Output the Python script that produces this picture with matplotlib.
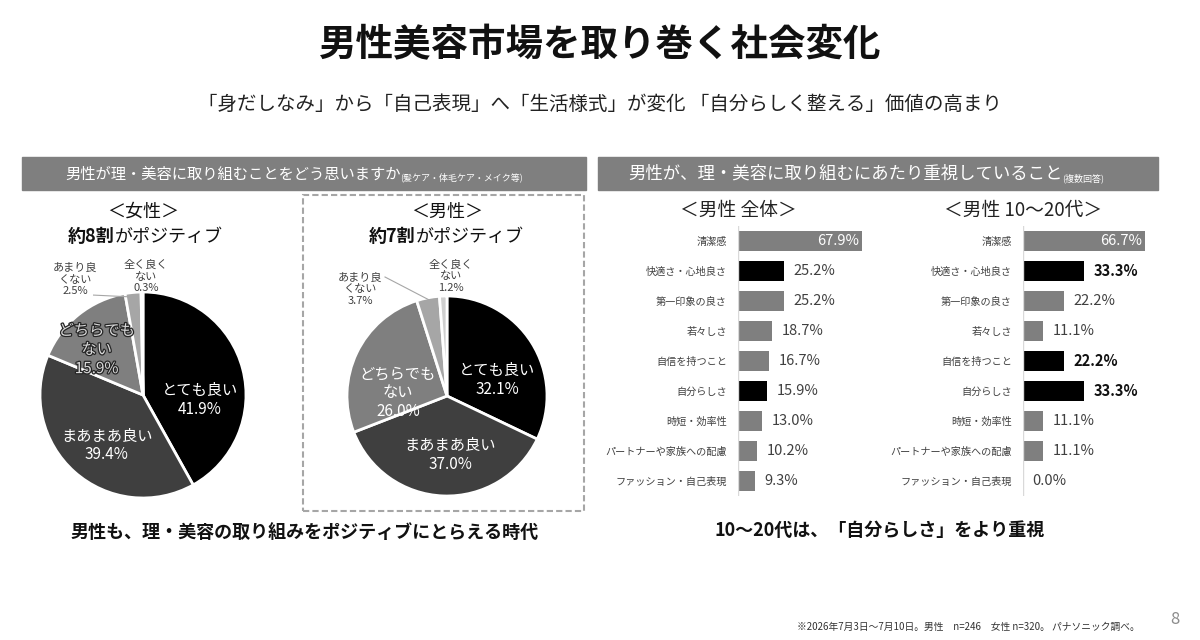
import matplotlib
matplotlib.use('Agg')
import matplotlib.pyplot as plt
from matplotlib.patches import Rectangle
from matplotlib.text import Annotation
import matplotlib.patheffects as pe

plt.rcParams['font.family'] = ['Noto Sans CJK JP', 'DejaVu Sans']

# pie data
pie_labels = ['とても良い', 'まあまあ良い', 'どちらでも\nない', 'あまり良\nくない', '全く良く\nない']
women_share = [41.9, 39.4, 15.9, 2.5, 0.3]
men_share = [32.1, 37.0, 26.0, 3.7, 1.2]
pie_colors = ['#000000', '#3f3f3f', '#7f7f7f', '#a6a6a6', '#cfcfcf']

# bar data
items = ['清潔感', '快適さ・心地良さ', '第一印象の良さ', '若々しさ', '自信を持つこと',
         '自分らしさ', '時短・効率性', 'パートナーや家族への配慮', 'ファッション・自己表現']
men_all = [67.9, 25.2, 25.2, 18.7, 16.7, 15.9, 13.0, 10.2, 9.3]
men_young = [66.7, 33.3, 22.2, 11.1, 22.2, 33.3, 11.1, 11.1, 0.0]
hl_all = ['快適さ・心地良さ', '自分らしさ']
hl_young = ['快適さ・心地良さ', '自信を持つこと', '自分らしさ']

W, H = 1200, 640
fig = plt.figure(figsize=(12, 6.4), dpi=100)
fig.patch.set_facecolor('white')


def fx(x):
    return x / W


def fy(y):
    return 1 - y / H


def tail(prev, s, **kw):
    # text glued to the right end of another text
    a = Annotation(s, xy=(1, 0), xycoords=prev, ha='left', va='bottom', **kw)
    fig.add_artist(a)
    return a


# titles
fig.text(0.5, fy(45), '男性美容市場を取り巻く社会変化', fontsize=27, weight='bold',
         ha='center', va='center', color='#111111')
fig.text(0.5, fy(105), '「身だしなみ」から「自己表現」へ「生活様式」が変化 「自分らしく整える」価値の高まり',
         fontsize=14, ha='center', va='center', color='#222222')

# header bars
for x0, x1 in [(22, 586), (598, 1158)]:
    fig.patches.append(Rectangle((fx(x0), fy(190)), fx(x1 - x0), 33 / H,
                                 transform=fig.transFigure, color='#7f7f7f', zorder=0))
t = fig.text(fx(65), fy(174), '男性が理・美容に取り組むことをどう思いますか', fontsize=11,
             color='white', ha='left', va='center')
tail(t, '(髪ケア・体毛ケア・メイク等)', fontsize=6.5, color='white')
t2 = fig.text(fx(628), fy(174), '男性が、理・美容に取り組むにあたり重視していること', fontsize=12.5,
              color='white', ha='left', va='center')
tail(t2, '(複数回答)', fontsize=6.5, color='white')

# dashed box around men's pie
fig.patches.append(Rectangle((fx(303), fy(511)), fx(584 - 303), (511 - 195) / H,
                             transform=fig.transFigure, fill=False, edgecolor='#a6a6a6',
                             lw=1.5, ls=(0, (3, 1.5)), zorder=0))


def pie_block(cx, cy, r, shares, head, bold_part, rest_part, x_start, inner_pos, outer_pos,
              leader, outline):
    fig.text(fx(cx), fy(212), head, fontsize=13, ha='center', va='center', color='#111111')
    b = fig.text(fx(x_start), fy(236), bold_part, fontsize=13, weight='bold', ha='left',
                 va='center', color='#111111')
    tail(b, rest_part, fontsize=13, color='#111111')

    ax = fig.add_axes([fx(cx - r), fy(cy + r), 2 * r / W, 2 * r / H])
    ax.pie(shares, colors=pie_colors, startangle=90, counterclock=False, radius=1,
           wedgeprops=dict(edgecolor='white', linewidth=2))
    ax.set_aspect('auto')
    ax.set_xlim(-1, 1)
    ax.set_ylim(-1, 1)
    ax.axis('off')
    for i in range(3):
        px, py = inner_pos[i]
        txt = ax.text(px, py, f'{pie_labels[i]}\n{shares[i]:.1f}%', fontsize=11,
                      color='white', ha='center', va='center', linespacing=1.15)
        if i == 2 and outline:
            txt.set_color('#d9d9d9')
            txt.set_path_effects([pe.withStroke(linewidth=1.8, foreground='#262626')])
    for i in range(3, 5):
        px, py = outer_pos[i - 3]
        ax.text(px, py, f'{pie_labels[i]}\n{shares[i]:.1f}%', fontsize=8,
                color='#404040', ha='center', va='center', linespacing=1.2, clip_on=False)
    (x1, y1), (x2, y2) = leader
    ax.plot([x1, x2], [y1, y2], color='#a6a6a6', lw=0.8, clip_on=False)


pie_block(143, 395, 103, women_share, '＜女性＞', '約8割', 'がポジティブ', 68,
          [(0.55, -0.05), (-0.35, -0.49), (-0.45, 0.44)],
          [(-0.66, 1.12), (0.03, 1.15)],
          [(-0.48, 0.97), (-0.07, 0.95)], True)
pie_block(447, 396, 100, men_share, '＜男性＞', '約7割', 'がポジティブ', 369,
          [(0.5, 0.16), (0.03, -0.59), (-0.49, 0.03)],
          [(-0.87, 1.07), (0.04, 1.2)],
          [(-0.62, 1.19), (-0.12, 0.93)], False)


def bar_block(x0, values, hl, head, bold_hl):
    fig.text(fx(x0), fy(210), head, fontsize=13.5, ha='center', va='center', color='#222222')
    ax = fig.add_axes([fx(x0), fy(496), 183 / W, 270 / H])
    ypos = list(range(len(items)))
    colors = ['#000000' if it in hl else '#7f7f7f' for it in items]
    ax.barh(ypos, values, height=0.65, color=colors)
    ax.set_xlim(0, 100)
    ax.set_ylim(len(items) - 0.5, -0.5)
    ax.set_yticks(ypos)
    ax.set_yticklabels(items, fontsize=7.3, color='#404040')
    ax.tick_params(axis='y', length=0, pad=8)
    ax.set_xticks([])
    for s in ax.spines.values():
        s.set_visible(False)
    ax.axvline(0, color='#d9d9d9', lw=1)
    for i, (v, it) in enumerate(zip(values, items)):
        if i == 0:
            ax.annotate(f'{v:.1f}%', xy=(v, i), xytext=(-2, 0), textcoords='offset points',
                        ha='right', va='center', fontsize=10.5, color='white')
        else:
            bold = bold_hl and it in hl
            ax.annotate(f'{v:.1f}%', xy=(v, i), xytext=(7, 0), textcoords='offset points',
                        ha='left', va='center', fontsize=10.5,
                        color='#111111' if bold else '#404040',
                        weight='bold' if bold else 'normal')
    ax.patch.set_alpha(0)


bar_block(738, men_all, hl_all, '＜男性 全体＞', False)
bar_block(1023, men_young, hl_young, '＜男性 10～20代＞', True)

# conclusions
fig.text(fx(305), fy(532), '男性も、理・美容の取り組みをポジティブにとらえる時代', fontsize=13,
         weight='bold', ha='center', va='center', color='#111111')
fig.text(fx(880), fy(530), '10～20代は、「自分らしさ」をより重視', fontsize=13,
         weight='bold', ha='center', va='center', color='#111111')

# footer
fig.text(fx(1140), fy(627), '※2026年7月3日～7月10日。男性　n=246　女性 n=320。 パナソニック調べ。',
         fontsize=7, ha='right', va='center', color='#333333')
fig.text(fx(1175), fy(619), '8', fontsize=12, ha='center', va='center', color='#8c8c8c')

fig.savefig('out.png', dpi=100)
